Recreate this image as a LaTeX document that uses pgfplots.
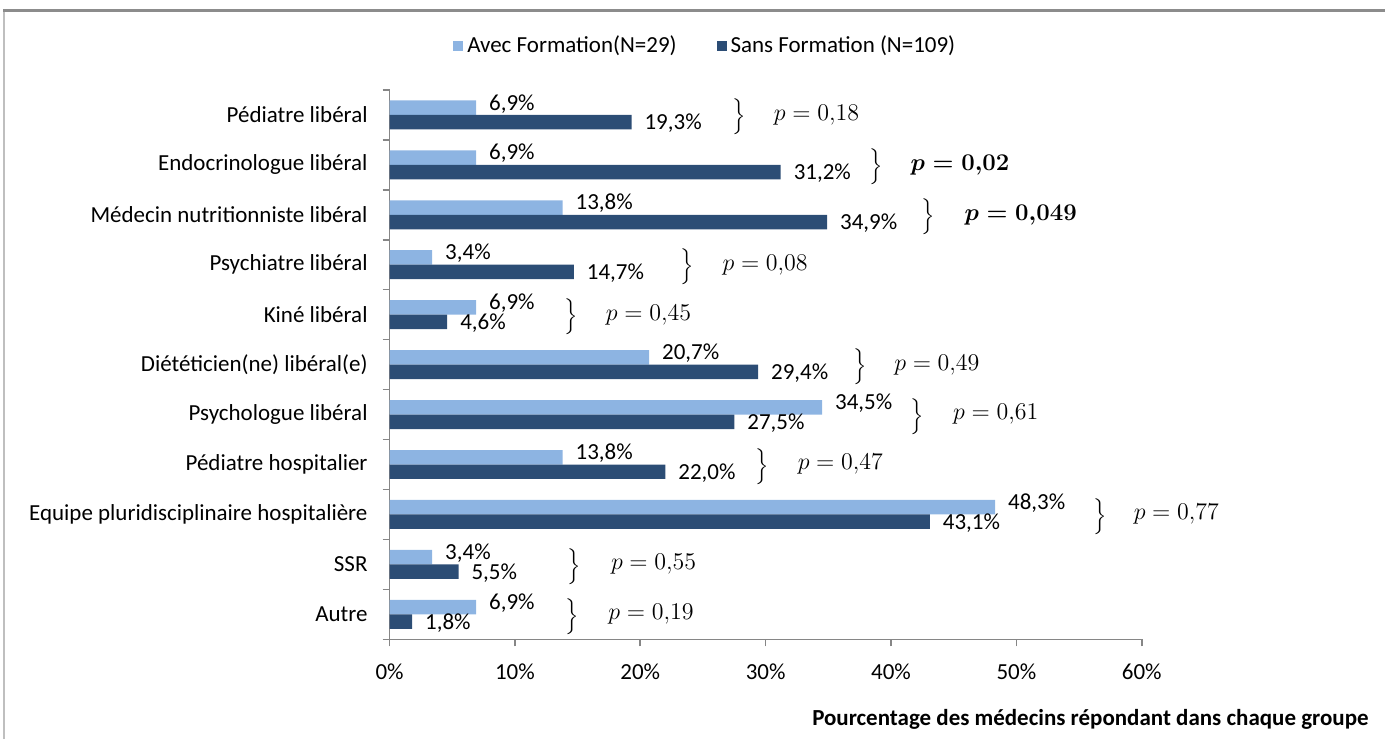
\documentclass[border=0pt]{standalone}
\usepackage{fontspec}
\setmainfont{Carlito}
\usepackage{pgfplots}
\pgfplotsset{compat=1.18}
\definecolor{avec}{HTML}{8DB4E2}
\definecolor{sans}{HTML}{2C4D75}
\definecolor{axisgray}{HTML}{868686}

\begin{document}
\begin{tikzpicture}[
  pval/.style={anchor=west, font=\fontsize{12}{14}\selectfont},
  pbr/.style={yshift=-1pt, font=\fontsize{11}{13}\selectfont}]
\path (-195pt,-50pt) rectangle (498pt,320pt);
\begin{axis}[
  at={(0,0)}, anchor=south west,
  scale only axis, width=376.5pt, height=275pt,
  xbar, bar width=7.25pt,
  xmin=0, xmax=60, ymin=-0.5, ymax=10.5,
  axis x line*=bottom, axis y line*=left,
  axis line style={axisgray, line width=0.8pt},
  xtick={0,10,...,60},
  minor xtick={0,10,...,60},
  xticklabels={0\%,10\%,20\%,30\%,40\%,50\%,60\%},
  ytick={0,...,10},
  minor ytick={-0.5,0.5,...,10.5},
  yticklabels={Autre, SSR, Equipe pluridisciplinaire hospitalière,
    Pédiatre hospitalier, Psychologue libéral, Diététicien(ne) libéral(e),
    Kiné libéral, Psychiatre libéral, Médecin nutritionniste libéral,
    Endocrinologue libéral, Pédiatre libéral},
  tick align=outside, major tick length=0pt, minor tick length=3.5pt,
  tick style={axisgray, line width=0.8pt},
  tick label style={font=\fontsize{11.5}{13.8}\selectfont},
  yticklabel style={xshift=-7.5pt},
  xticklabel style={yshift=-8.5pt},
  clip=false,
  nodes near coords,
  point meta=explicit symbolic,
  every node near coord/.append style={font=\fontsize{11.5}{13.8}\selectfont,
    text=black, anchor=west, xshift=3pt},
  legend columns=2,
  legend style={at={(0.421,1.08)}, anchor=center, draw=none,
    font=\fontsize{11.5}{13.8}\selectfont,
    /tikz/every even column/.append style={column sep=18pt}},
  legend image code/.code={\fill[#1] (0pt,-2.5pt) rectangle (5pt,2.5pt);},
  xlabel={Pourcentage des médecins répondant dans chaque groupe},
  xlabel style={font=\bfseries\fontsize{11.5}{13.8}\selectfont,
    at={(axis description cs:1.311,-0.145)}, anchor=east},
]
\addplot[fill=avec, draw=none, bar shift=3.625pt,
  every node near coord/.append style={yshift=2pt}] coordinates {
  (6.9,10)[6,9\%] (6.9,9)[6,9\%] (13.8,8)[13,8\%] (3.4,7)[3,4\%]
  (6.9,6)[6,9\%] (20.7,5)[20,7\%] (34.5,4)[34,5\%] (13.8,3)[13,8\%]
  (48.3,2)[48,3\%] (3.4,1)[3,4\%] (6.9,0)[6,9\%]};
\addlegendentry{{Avec Formation(N=29)}}
\addplot[fill=sans, draw=none, bar shift=-3.625pt,
  every node near coord/.append style={yshift=-0.75pt}] coordinates {
  (19.3,10)[19,3\%] (31.2,9)[31,2\%] (34.9,8)[34,9\%] (14.7,7)[14,7\%]
  (4.6,6)[4,6\%] (29.4,5)[29,4\%] (27.5,4)[27,5\%] (22.0,3)[22,0\%]
  (43.1,2)[43,1\%] (5.5,1)[5,5\%] (1.8,0)[1,8\%]};
\addlegendentry{{Sans Formation (N=109)}}

\node[pbr] at (axis cs:27.9,10) {$\Big\}$};
\node[pval] at (axis cs:30.1,10) {$p = 0{,}18$};
\node[pbr] at (axis cs:38.8,9) {$\Big\}$};
\node[pval, font=\boldmath\fontsize{12}{14}\selectfont] at (axis cs:41.0,9) {$p = 0{,}02$};
\node[pbr] at (axis cs:43.0,8) {$\Big\}$};
\node[pval, font=\boldmath\fontsize{12}{14}\selectfont] at (axis cs:45.3,8) {$p = 0{,}049$};
\node[pbr] at (axis cs:23.7,7) {$\Big\}$};
\node[pval] at (axis cs:26.0,7) {$p = 0{,}08$};
\node[pbr] at (axis cs:14.5,6) {$\Big\}$};
\node[pval] at (axis cs:16.7,6) {$p = 0{,}45$};
\node[pbr] at (axis cs:37.5,5) {$\Big\}$};
\node[pval] at (axis cs:39.7,5) {$p = 0{,}49$};
\node[pbr] at (axis cs:42.1,4) {$\Big\}$};
\node[pval] at (axis cs:44.4,4) {$p = 0{,}61$};
\node[pbr] at (axis cs:29.7,3) {$\Big\}$};
\node[pval] at (axis cs:32.0,3) {$p = 0{,}47$};
\node[pbr] at (axis cs:56.7,2) {$\Big\}$};
\node[pval] at (axis cs:58.8,2) {$p = 0{,}77$};
\node[pbr] at (axis cs:14.7,1) {$\Big\}$};
\node[pval] at (axis cs:17.1,1) {$p = 0{,}55$};
\node[pbr] at (axis cs:14.6,0) {$\Big\}$};
\node[pval] at (axis cs:16.9,0) {$p = 0{,}19$};
\end{axis}
\draw[color=black!25, line width=0.6pt] (-193pt,-50pt) -- (-193pt,314.5pt);
\draw[color=black!45, line width=1.5pt] (-193.3pt,314.5pt) -- (498pt,314.5pt);
\end{tikzpicture}
\end{document}
